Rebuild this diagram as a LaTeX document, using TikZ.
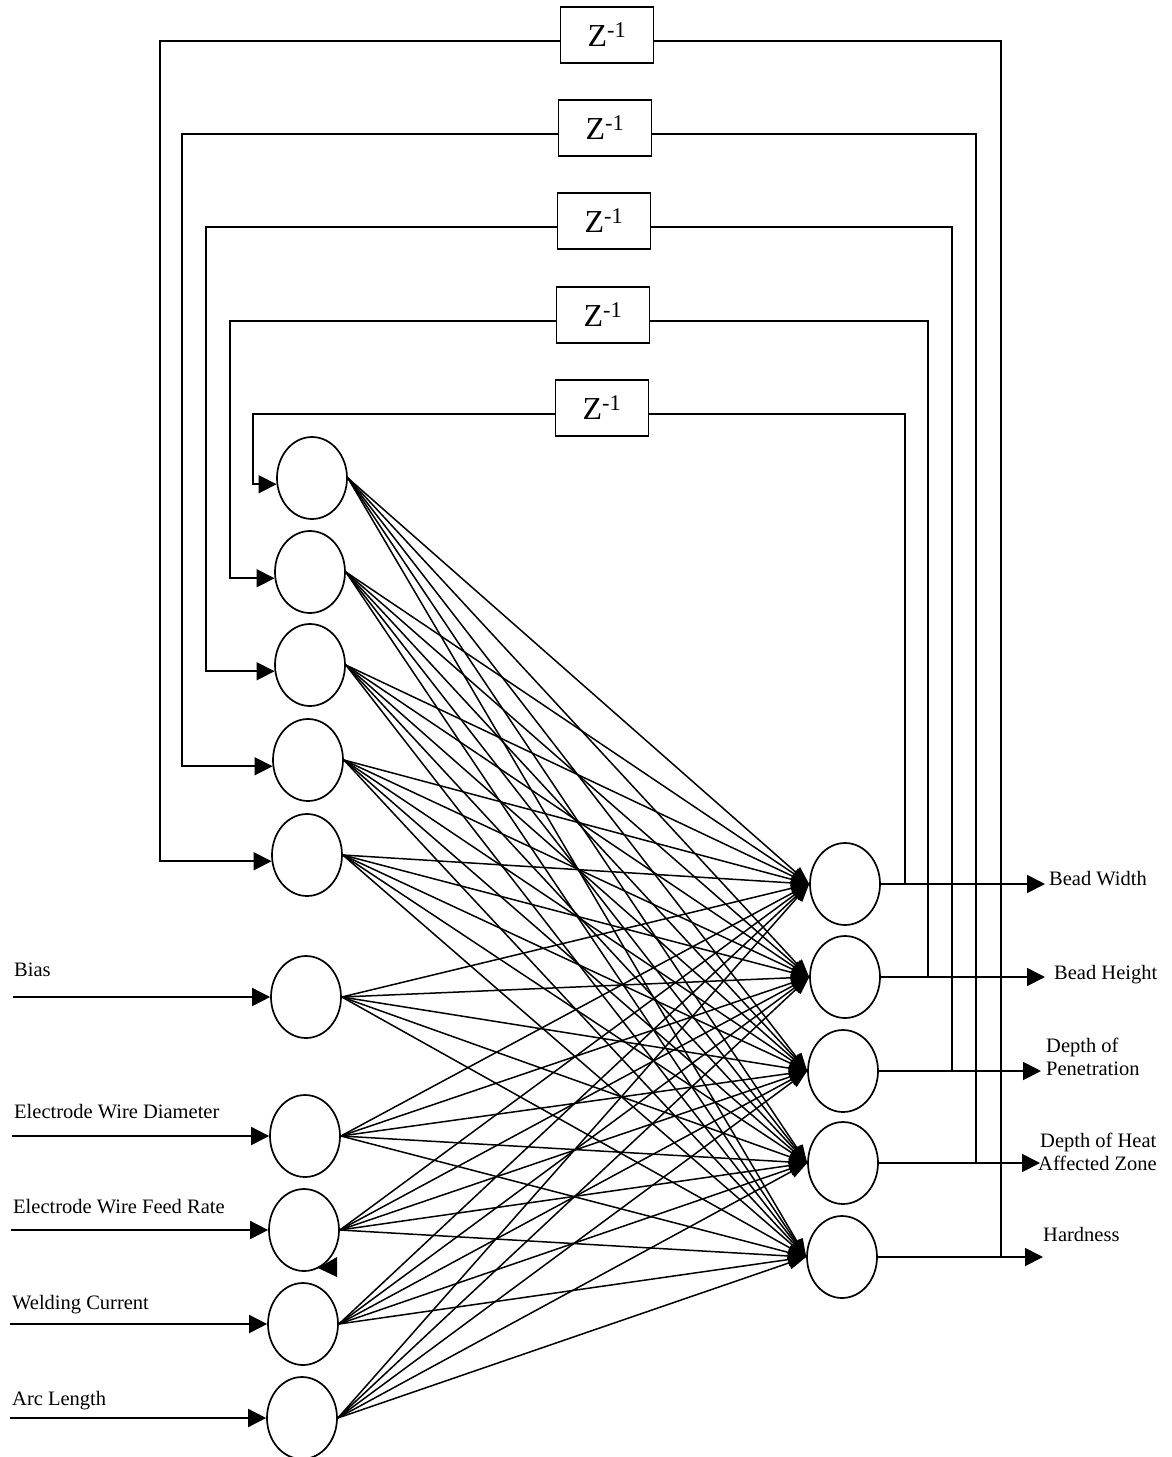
\documentclass[tikz,border=0pt]{standalone}
\usepackage{fontspec}
\setmainfont{Liberation Serif}
\usetikzlibrary{shapes.geometric,arrows.meta}

\tikzset{
  neuron/.style={ellipse, draw, minimum width=70pt, minimum height=82pt, inner sep=0pt, line width=1.7pt},
  delay/.style={rectangle, draw, minimum width=93pt, minimum height=56pt, inner sep=0pt, line width=1.9pt,
                font=\fontsize{32}{36}\selectfont},
  wire/.style={line width=1.8pt},
  feedin/.style={wire, -{Triangle[length=18pt,width=18pt]}},
  netline/.style={line width=1.5pt, -{Triangle[length=18pt,width=13pt]}},
  lbl/.style={anchor=base west, inner sep=0pt, font=\fontsize{20.5}{23}\selectfont},
}

\begin{document}
\begin{tikzpicture}[x=1pt, y=-1pt]
\useasboundingbox (0,0) rectangle (1172,1457);
\fill[white] (0,0) rectangle (1172,1457);

% left column: context units, bias and inputs
\node[neuron] (n1)  at (312,478)  {};
\node[neuron] (n2)  at (310,572)  {};
\node[neuron] (n3)  at (310,665)  {};
\node[neuron] (n4)  at (308,760)  {};
\node[neuron] (n5)  at (307,855)  {};
\node[neuron] (n6)  at (306,997)  {};
\node[neuron] (n7)  at (305,1136) {};
\node[neuron] (n8)  at (304,1230) {};
\node[neuron] (n9)  at (303,1324) {};
\node[neuron] (n10) at (302,1418) {};

% output units
\node[neuron] (o1) at (845,884)  {};
\node[neuron] (o2) at (845,977)  {};
\node[neuron] (o3) at (843,1071) {};
\node[neuron] (o4) at (843,1163) {};
\node[neuron] (o5) at (842,1257) {};

% unit delays
\node[delay] (z1) at (607,35)  {Z\textsuperscript{-1}};
\node[delay] (z2) at (605,128) {Z\textsuperscript{-1}};
\node[delay] (z3) at (604,221) {Z\textsuperscript{-1}};
\node[delay] (z4) at (603,315) {Z\textsuperscript{-1}};
\node[delay] (z5) at (602,408) {Z\textsuperscript{-1}};

% full connection from left column to outputs
\foreach \i in {1,...,10}
  \foreach \j in {1,...,5}
    \draw[netline] (n\i.east) -- (o\j.west);

% x positions of the feedback risers
\coordinate (l1) at (160,0);
\coordinate (l2) at (182,0);
\coordinate (l3) at (206,0);
\coordinate (l4) at (230,0);
\coordinate (l5) at (253,0);
\coordinate (r1) at (1001,0);
\coordinate (r2) at (976,0);
\coordinate (r3) at (952,0);
\coordinate (r4) at (928,0);
\coordinate (r5) at (905,0);

% delays back into the context units
\draw[feedin] ([yshift=-6pt]z1.west) -| (l1 |- n5.190) -- (n5.190);
\draw[feedin] ([yshift=-6pt]z2.west) -| (l2 |- n4.190) -- (n4.190);
\draw[feedin] ([yshift=-6pt]z3.west) -| (l3 |- n3.190) -- (n3.190);
\draw[feedin] ([yshift=-6pt]z4.west) -| (l4 |- n2.190) -- (n2.190);
\draw[feedin] ([yshift=-6pt]z5.west) -| (l5 |- n1.190) -- (n1.190);

% outputs tapped up into the delays
\draw[wire] (r1 |- o5.east) |- ([yshift=-6pt]z1.east);
\draw[wire] (r2 |- o4.east) |- ([yshift=-6pt]z2.east);
\draw[wire] (r3 |- o3.east) |- ([yshift=-6pt]z3.east);
\draw[wire] (r4 |- o2.east) |- ([yshift=-6pt]z4.east);
\draw[wire] (r5 |- o1.east) |- ([yshift=-6pt]z5.east);

% output arrows
\coordinate (t1) at (1045,884);
\coordinate (t2) at (1045,977);
\coordinate (t3) at (1041,1071);
\coordinate (t4) at (1040,1163);
\coordinate (t5) at (1043,1257);
\foreach \j in {1,...,5}
  \draw[feedin] (o\j.east) -- (t\j);

\node[lbl] (lbw) at (1049,885) {Bead Width};
\node[lbl] (lbh) at (1054,979) {Bead Height};
\node[lbl] (ldp1) at (1046,1052) {Depth of};
\node[lbl] (ldp2) at (1046,1075) {Penetration};
\node[lbl] (ldh1) at (1040,1147) {Depth of Heat};
\node[lbl] (ldh2) at (1038,1170) {Affected Zone};
\node[lbl] (lhd) at (1043,1241) {Hardness};

% input arrows
\coordinate (s6)  at (13,997);
\coordinate (s7)  at (12,1136);
\coordinate (s8)  at (11,1230);
\coordinate (s9)  at (10,1324);
\coordinate (s10) at (10,1418);
\foreach \i in {6,...,10}
  \draw[feedin] (s\i) -- (n\i.west);

\node[lbl] (lbias) at (14,976)  {Bias};
\node[lbl] (lewd)  at (14,1118) {Electrode Wire Diameter};
\node[lbl] (lewf)  at (13,1213) {Electrode Wire Feed Rate};
\node[lbl] (lwc)   at (12,1309) {Welding Current};
\node[lbl] (lal)   at (12,1405) {Arc Length};

% stray arrowhead below the feed-rate unit
\fill (337,1257) -- (337,1277) -- (318,1268) -- cycle;
\end{tikzpicture}
\end{document}
